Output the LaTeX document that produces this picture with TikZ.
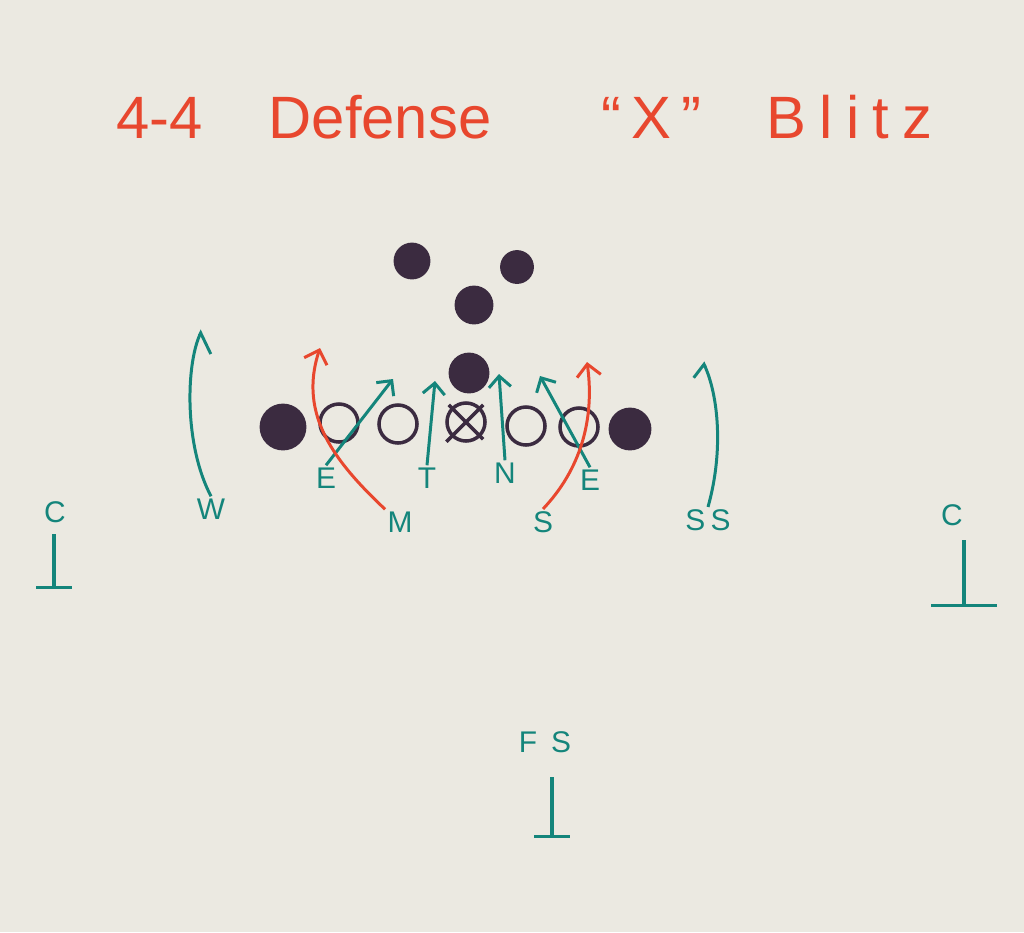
\documentclass[tikz,border=0pt]{standalone}
\usepackage{fontspec}
\setmainfont{Liberation Sans}
\usepackage{xcolor}
\definecolor{paperBg}{HTML}{EBE9E1}
\definecolor{inkRed}{HTML}{E8472E}
\definecolor{inkTeal}{HTML}{14857B}
\definecolor{inkPurple}{HTML}{3B2B40}
\usepackage{tikz}
\usetikzlibrary{arrows.meta,positioning}
\tikzset{%
  titleText/.style={%
    text=inkRed,
    font=\fontsize{17}{20}\selectfont,
    inner sep=0pt
  },
  backField/.style={%
    circle,
    fill=inkPurple,
    draw=inkPurple,
    line width=0.8pt,
    minimum size=3.4mm,
    inner sep=0pt
  },
  lineMan/.style={%
    circle,
    draw=inkPurple,
    line width=1pt,
    minimum size=3.8mm,
    inner sep=0pt
  },
  posLabel/.style={%
    text=inkTeal,
    font=\fontsize{8.5}{10}\selectfont,
    inner sep=0.5pt
  },
  readArrow/.style={%
    -{Straight Barb[length=1.1mm,width=2.2mm]},
    line width=0.85pt,
    color=inkTeal
  },
  blitzArrow/.style={%
    -{Straight Barb[length=1.2mm,width=2.4mm]},
    line width=0.85pt,
    color=inkRed
  },
  dropLine/.style={%
    -{Bar[width=3.5mm]},
    line width=0.9pt,
    color=inkTeal
  }
}

\begin{document}
\begin{tikzpicture}[x=0.01cm, y=-0.01cm]
            \fill[paperBg] (0,0) rectangle (1024,932);
            \useasboundingbox (0,0) rectangle (1024,932);

            % title
            \node[titleText] (title) at (304,117) {4-4\hspace{1.1em}Defense};
            \node[titleText] (blitz) at (767,117) {“\,X\,”\hspace{1.1em}{\addfontfeature{LetterSpace=22}Blitz}};

            % offense
            \node[backField, minimum size=4.4mm] (leftEnd) at (283,427) {};
            \node[lineMan] (lTackle) at (339,423) {};
            \node[lineMan] (lGuard) at (398,424) {};
            \node[lineMan] (center) at (466,422) {};
            \node[lineMan] (rGuard) at (526,426) {};
            \node[lineMan] (rTackle) at (579,427) {};
            \node[backField, minimum size=4mm] (rightEnd) at (630,429) {};
            \draw[inkPurple, line width=1pt, shorten <=-1pt, shorten >=-1pt] (center.135) -- (center.-45);
            \draw[inkPurple, line width=1pt, shorten <=-1pt, shorten >=-2pt] (center.45) -- (center.-135);

            \node[backField, minimum size=3.8mm] (qBack) at (469,373) {};
            \node[backField, minimum size=3.6mm] (fBack) at (474,305) {};
            \node[backField] (lBack) at (412,261) {};
            \node[backField, minimum size=3.1mm] (rBack) at (517,267) {};

            % defense
            \node[posLabel] (endL) at (326,478) {E};
            \node[posLabel] (tackleL) at (427,478) {T};
            \node[posLabel] (noseL) at (505,473) {N};
            \node[posLabel] (endR) at (590,480) {E};
            \node[posLabel] (mikeL) at (400,522) {M};
            \node[posLabel] (samL) at (543,522) {S};
            \node[posLabel] (willL) at (211,509) {W};
            \node[posLabel] (strongL) at (708,520) {S\kern1.5pt S};
            \node[posLabel] (cornerL) at (55,512) {C};
            \node[posLabel] (cornerR) at (952,515) {C};
            \node[posLabel] (freeS) at (545,742) {F\kern4pt S};

            \coordinate (endLTip) at (393,379);
            \coordinate (tackleTip) at (435,381);
            \coordinate (noseTip) at (499,374);
            \coordinate (endRTip) at (540,376);
            \coordinate (mikeTip) at (320,348);
            \coordinate (samTip) at (587,362);
            \coordinate (willTip) at (202,330);
            \coordinate (strongTip) at (703,362);
            \coordinate (cornerLEnd) at (54,589);
            \coordinate (cornerREnd) at (964,607);
            \coordinate (freeEnd) at (552,838);

            \draw[readArrow] (endL.north) -- (endLTip);
            \draw[readArrow] (tackleL.north) -- (tackleTip);
            \draw[readArrow] (noseL.north) -- (noseTip);
            \draw[readArrow] (endR.north) -- (endRTip);
            \draw[blitzArrow] (mikeL.north west) .. controls (335,462) and (298,415) .. (mikeTip);
            \draw[blitzArrow] (samL.north) .. controls (580,470) and (595,420) .. (samTip);
            \draw[readArrow, -{Straight Barb[right,length=1.5mm,width=3.6mm]}] (willL.north) .. controls (184,445) and (186,365) .. (willTip);
            \draw[readArrow, -{Straight Barb[left,length=0.8mm,width=3mm]}] (strongL.north) .. controls (724,450) and (718,395) .. (strongTip);

            \draw[dropLine, shorten <=0.9mm] (cornerL.south -| cornerLEnd) -- (cornerLEnd);
            \draw[dropLine, -{Bar[width=6.5mm]}, shorten <=1.2mm] (cornerR.south -| cornerREnd) -- (cornerREnd);
            \draw[dropLine, shorten <=2.2mm] (freeS.south -| freeEnd) -- (freeEnd);
        \end{tikzpicture}
\end{document}
